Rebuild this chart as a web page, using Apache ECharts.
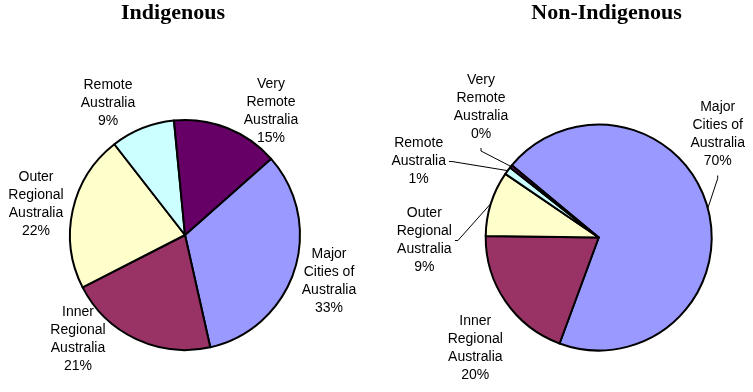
<!DOCTYPE html>
<html><head><meta charset="utf-8">
<script src="https://cdn.jsdelivr.net/npm/echarts@6/dist/echarts.min.js"></script>
<style>html,body{margin:0;padding:0;background:#fff}#c{width:753px;height:392px}</style>
</head><body><div id="c"></div>
<script>
// ---- data ----
const categories = ['Major\nCities of\nAustralia', 'Inner\nRegional\nAustralia', 'Outer\nRegional\nAustralia', 'Remote\nAustralia', 'Very\nRemote\nAustralia'];
const indigenousValues = [33, 21, 22, 9, 15];
const nonIndigenousValues = [69.6, 19.6, 9.3, 1.1, 0.4];
const titles = ['Indigenous', 'Non-Indigenous'];
const colors = ['#9999FF', '#993366', '#FFFFCC', '#CCFFFF', '#660066'];

// ---- layout ----
const pies = [
  { cx: 185, cy: 235, r: 115, start: 41.5, values: indigenousValues, titleX: 173,
    offsets: [[144, 46.5], [-107, 104.5], [-149, -31], [-77, -132], [86, -124]],
    leaders: [null, null, null, null, null] },
  { cx: 598.7, cy: 237.5, r: 113, start: 140.3, values: nonIndigenousValues, titleX: 606.5,
    offsets: [[119, -103], [-123.4, 111], [-174.4, 3], [-180, -76], [-117.7, -130.5]],
    leaders: ['bottom', null, 'right', 'right', 'bottom'] }
];

function midAngle(P, k) {
  const total = P.values.reduce((a, b) => a + b, 0);
  let before = 0;
  for (let i = 0; i < k; i++) before += P.values[i];
  const a0 = P.start - before / total * 360;
  return a0 - P.values[k] / total * 180;
}

const chart = echarts.init(document.getElementById('c'), null, { renderer: 'canvas' });

const series = pies.map((P, si) => ({
  type: 'pie',
  center: [P.cx, P.cy],
  radius: P.r,
  startAngle: P.start,
  clockwise: true,
  avoidLabelOverlap: false,
  animation: false,
  silent: true,
  itemStyle: { borderColor: '#000', borderWidth: 2 },
  label: {
    show: true, position: 'outside',
    fontFamily: 'Liberation Sans, Arial, sans-serif', fontSize: 14, lineHeight: 18, color: '#000',
    formatter: p => p.name + '\n' + Math.round(p.percent) + '%'
  },
  labelLine: { show: si === 1, lineStyle: { color: '#000', width: 1 }, smooth: false },
  data: P.values.map((v, k) => ({
    name: categories[k], value: v,
    itemStyle: { color: colors[k] },
    labelLine: { show: !!P.leaders[k] }
  })),
  labelLayout: function (p) {
    const k = p.dataIndex;
    const lx = P.cx + P.offsets[k][0], ly = P.cy + P.offsets[k][1];
    const res = { x: lx, y: ly, align: 'center', verticalAlign: 'middle' };
    const type = P.leaders[k];
    if (type) {
      const w = p.labelRect.width, h = p.labelRect.height;
      const m = midAngle(P, k) * Math.PI / 180;
      const ex = P.cx + P.r * Math.cos(m), ey = P.cy - P.r * Math.sin(m);
      let ax, ay, bx, by;
      if (type === 'bottom') { ax = lx; ay = ly + h / 2 + 5; bx = lx; by = ay + 3; }
      else { ax = lx + w / 2 + 3; ay = ly; bx = ax + 3; by = ly; }
      res.labelLinePoints = [[ex, ey], [bx, by], [ax, ay]];
    }
    return res;
  }
}));

chart.setOption({
  backgroundColor: '#fff',
  animation: false,
  title: titles.map((t, i) => ({
    text: t, left: pies[i].titleX, top: 2, padding: 0, textAlign: 'center',
    textStyle: { fontFamily: 'Liberation Serif, Times New Roman, serif', fontWeight: 'bold', fontSize: 22, color: '#000' }
  })),
  series: series
});
</script>
</body></html>
